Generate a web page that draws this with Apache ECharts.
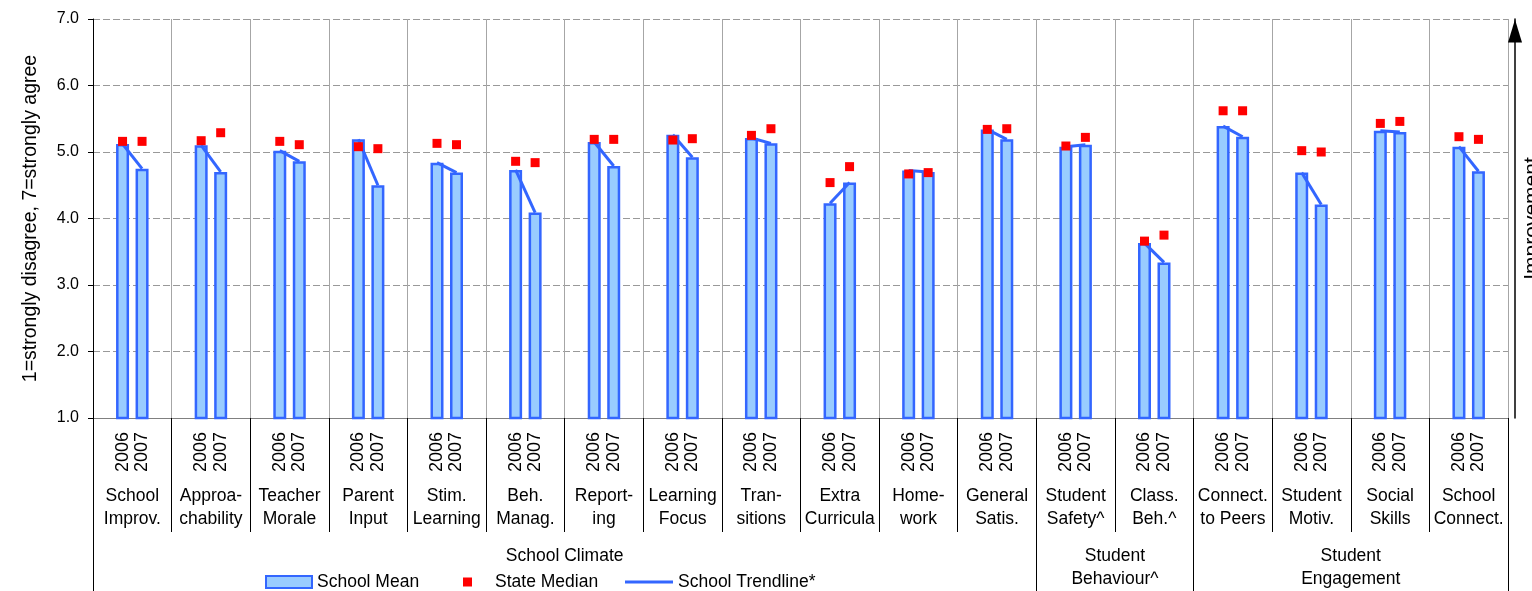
<!DOCTYPE html>
<html>
<head>
<meta charset="utf-8">
<script src="https://cdn.jsdelivr.net/npm/echarts@6/dist/echarts.min.js"></script>
<style>
  html, body { margin: 0; padding: 0; background: #fff; }
  #main { width: 1532px; height: 591px; }
</style>
</head>
<body>
<div id="main"></div>
<script>
// category labels (line breaks as in the original)
const categories = [
  "School\nImprov.", "Approa-\nchability", "Teacher\nMorale", "Parent\nInput",
  "Stim.\nLearning", "Beh.\nManag.", "Report-\ning", "Learning\nFocus",
  "Tran-\nsitions", "Extra\nCurricula", "Home-\nwork", "General\nSatis.",
  "Student\nSafety^", "Class.\nBeh.^", "Connect.\nto Peers", "Student\nMotiv.",
  "Social\nSkills", "School\nConnect."
];
const years = ["2006", "2007"];

const schoolMean2006 = [5.12, 5.10, 5.02, 5.19, 4.84, 4.73, 5.15, 5.26, 5.21, 4.23, 4.72, 5.34, 5.08, 3.63, 5.39, 4.69, 5.32, 5.08];
const schoolMean2007 = [4.75, 4.70, 4.86, 4.50, 4.69, 4.09, 4.79, 4.92, 5.13, 4.54, 4.70, 5.19, 5.11, 3.34, 5.23, 4.21, 5.30, 4.71];
const stateMedian2006 = [5.16, 5.17, 5.16, 5.08, 5.13, 4.86, 5.19, 5.18, 5.25, 4.54, 4.67, 5.34, 5.09, 3.66, 5.62, 5.02, 5.43, 5.23];
const stateMedian2007 = [5.16, 5.29, 5.11, 5.05, 5.11, 4.84, 5.19, 5.20, 5.35, 4.78, 4.69, 5.35, 5.22, 3.75, 5.62, 5.00, 5.46, 5.19];

const groupNames = ["School Climate", "Student\nBehaviour^", "Student\nEngagement"];
const groupSizes = [12, 2, 4];

const yTitle = "1=strongly disagree, 7=strongly agree";

// group edges / centres on the 0..18 scale
var groupEdges = [0];
groupSizes.forEach(function (n) { groupEdges.push(groupEdges[groupEdges.length - 1] + n); });
var groupCenters = groupSizes.map(function (n, i) { return groupEdges[i] + n / 2; });

const FONT = "Liberation Sans, Arial, sans-serif";
const BLUE = "#3366ff";
const PALE = "#99ccff";
const barW = 13;
const pairOffset = 9.75; // half distance between the 2006 and 2007 bar centres

var chart = echarts.init(document.getElementById("main"));

var option = {
  animation: false,
  textStyle: { fontFamily: FONT, color: "#000" },
  grid: { left: 93, right: 24, top: 19, bottom: 173, outerBoundsMode: "none" },
  legend: [
    {
      data: [{ name: "School Mean", icon: "rect" }],
      left: 265, top: 573, padding: 0,
      itemWidth: 46, itemHeight: 12,
      textStyle: { fontFamily: FONT, fontSize: 17.5, color: "#000" }
    },
    {
      data: [{ name: "State Median", icon: "rect" }],
      left: 463, top: 573, padding: 0,
      itemWidth: 9, itemHeight: 9,
      textStyle: { fontFamily: FONT, fontSize: 17.5, color: "#000", padding: [0, 0, 0, 18] }
    },
    {
      data: [{ name: "School Trendline*", icon: "rect" }],
      left: 625, top: 573, padding: 0,
      itemWidth: 48, itemHeight: 3,
      textStyle: { fontFamily: FONT, fontSize: 17.5, color: "#000" }
    }
  ],
  xAxis: [
    {
      // bars + year labels
      type: "category",
      data: categories,
      position: "bottom",
      axisLine: { lineStyle: { color: "#808080", width: 1 } },
      axisTick: { show: true, length: 114, lineStyle: { color: "#000" } },
      axisLabel: {
        interval: 0, rotate: 90, margin: 14,
        formatter: function () { return years.join("\n"); },
        fontFamily: FONT, fontSize: 18, lineHeight: 19.5, color: "#000"
      },
      splitLine: { show: true, lineStyle: { color: "#a6a6a6", width: 1 } }
    },
    {
      // category names
      type: "category",
      data: categories,
      position: "bottom",
      axisLine: { show: false },
      axisTick: { show: false },
      splitLine: { show: false },
      axisLabel: {
        interval: 0, margin: 67,
        fontFamily: FONT, fontSize: 17.5, lineHeight: 23, color: "#000"
      }
    },
    {
      // group names + group dividers
      type: "value",
      min: 0, max: groupEdges[groupEdges.length - 1],
      position: "bottom",
      axisLine: { show: false },
      splitLine: { show: false },
      axisTick: { show: true, customValues: groupEdges, length: 173, lineStyle: { color: "#000" } },
      axisLabel: {
        customValues: groupCenters, margin: 127,
        formatter: function (v) {
          var i = groupCenters.indexOf(v);
          return i >= 0 ? groupNames[i] : "";
        },
        fontFamily: FONT, fontSize: 17.5, lineHeight: 23, color: "#000"
      }
    }
  ],
  yAxis: [
    {
      type: "value",
      min: 1, max: 7, interval: 1,
      position: "left",
      name: yTitle,
      nameLocation: "middle",
      nameGap: 52,
      nameTextStyle: { fontFamily: FONT, fontSize: 19.5, color: "#000" },
      axisLine: { show: true, lineStyle: { color: "#000", width: 1 } },
      axisTick: { show: true, length: 5, lineStyle: { color: "#000" } },
      axisLabel: {
        margin: 14,
        formatter: function (v) { return v.toFixed(1); },
        fontFamily: FONT, fontSize: 16, color: "#000"
      },
      splitLine: { show: true, lineStyle: { color: "#999", type: [7, 3], width: 1 } }
    },
    {
      // "Improvement" arrow
      type: "value",
      min: 1, max: 7,
      position: "right",
      offset: 7,
      name: "Improvement",
      nameLocation: "middle",
      nameRotate: 90,
      nameGap: 7,
      nameTextStyle: { fontFamily: FONT, fontSize: 21, color: "#000" },
      axisLine: {
        show: true,
        symbol: ["none", "triangle"],
        symbolSize: [14, 23],
        symbolOffset: [0, -12],
        lineStyle: { color: "#000", width: 1.5 }
      },
      axisTick: { show: false },
      axisLabel: { show: false },
      splitLine: { show: false }
    }
  ],
  series: [
    {
      name: "School Mean", type: "bar", xAxisIndex: 0, yAxisIndex: 0,
      data: schoolMean2006, barWidth: barW, barGap: "50%", clip: true, z: 2,
      itemStyle: { color: PALE, borderColor: BLUE, borderWidth: 2.5 }
    },
    {
      name: "School Mean", type: "bar", xAxisIndex: 0, yAxisIndex: 0,
      data: schoolMean2007, barWidth: barW, barGap: "50%", clip: true, z: 2,
      itemStyle: { color: PALE, borderColor: BLUE, borderWidth: 2.5 }
    },
    {
      name: "School Trendline*", type: "custom", xAxisIndex: 0, yAxisIndex: 0, z: 3,
      itemStyle: { color: BLUE },
      encode: { x: 0, y: [1, 2] },
      data: categories.map(function (c, i) { return [i, schoolMean2006[i], schoolMean2007[i]]; }),
      renderItem: function (params, api) {
        var a = api.coord([api.value(0), api.value(1)]);
        var b = api.coord([api.value(0), api.value(2)]);
        return {
          type: "line",
          shape: { x1: a[0] - pairOffset, y1: a[1], x2: b[0] + pairOffset, y2: b[1] },
          style: { stroke: BLUE, lineWidth: 3 }
        };
      }
    },
    {
      name: "State Median", type: "scatter", xAxisIndex: 0, yAxisIndex: 0, z: 4,
      data: stateMedian2006, symbol: "rect", symbolSize: 9, symbolOffset: [-pairOffset, 0],
      itemStyle: { color: "#ff0000", opacity: 1 }
    },
    {
      name: "State Median", type: "scatter", xAxisIndex: 0, yAxisIndex: 0, z: 4,
      data: stateMedian2007, symbol: "rect", symbolSize: 9, symbolOffset: [pairOffset, 0],
      itemStyle: { color: "#ff0000", opacity: 1 }
    }
  ]
};

chart.setOption(option);
</script>
</body>
</html>
